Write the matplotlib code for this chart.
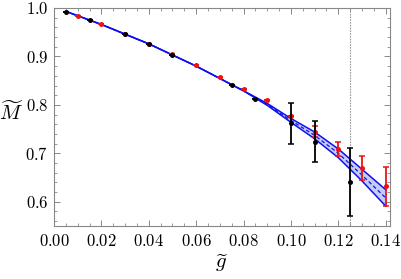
import matplotlib
matplotlib.use("Agg")
import matplotlib.pyplot as plt
import numpy as np
from matplotlib.ticker import MultipleLocator, FuncFormatter

plt.rcParams['mathtext.fontset'] = 'cm'
plt.rcParams['font.family'] = 'DejaVu Serif'

# black data
g_black = [0.005, 0.015, 0.03, 0.04, 0.05, 0.075, 0.085, 0.10, 0.11, 0.125]
m_black = [0.992, 0.975, 0.946, 0.925, 0.904, 0.842, 0.813, 0.762, 0.724, 0.641]
err_black = [0.0, 0.0, 0.0, 0.0, 0.0, 0.0, 0.0, 0.042, 0.042, 0.070]

# red data
g_red = [0.01, 0.02, 0.03, 0.04, 0.05, 0.06, 0.07, 0.08, 0.09, 0.10, 0.11, 0.12, 0.13, 0.14]
m_red = [0.984, 0.966, 0.946, 0.926, 0.905, 0.882, 0.858, 0.833, 0.810, 0.778, 0.745, 0.709, 0.670, 0.632]
err_red = [0.0, 0.0, 0.0, 0.0, 0.0, 0.0, 0.0, 0.0, 0.0, 0.0, 0.011, 0.015, 0.025, 0.040]

# fitted curve
g_fit = [0.005, 0.02, 0.04, 0.06, 0.08, 0.09, 0.10, 0.11, 0.12, 0.13, 0.14]
m_fit = [0.993, 0.966, 0.926, 0.880, 0.829, 0.801, 0.768, 0.737, 0.700, 0.655, 0.608]
w_fit = [0.0, 0.0, 0.0, 0.0, 0.0, 0.002, 0.004, 0.007, 0.009, 0.012, 0.017]

g_vline = 0.125

fig = plt.figure(figsize=(4.01, 2.79), dpi=100)
ax = fig.add_axes([54/401, 1-226/279, (390-54)/401, (226-8)/279])

gf = np.array(g_fit); mf = np.array(m_fit); wf = np.array(w_fit)
blue = '#1010ee'
ax.fill_between(gf, mf - wf, mf + wf, color='#b8c0f0', alpha=0.8, lw=0, zorder=1)
ax.plot(gf, mf + wf, color=blue, lw=1.1, zorder=2)
ax.plot(gf, mf - wf, color=blue, lw=1.1, zorder=2)
ax.plot(gf, mf, color=blue, lw=0.9, ls=(0, (3, 2)), zorder=2)

ax.axvline(g_vline, color='#999999', lw=0.8, ls=(0, (1.5, 1)), zorder=0.5)

ax.errorbar(g_red, m_red, yerr=err_red, fmt='o', color='#ee1111', ms=3.6,
            elinewidth=1.3, capsize=2.5, capthick=1.1, zorder=3, mec='none')
ax.errorbar(g_black, m_black, yerr=err_black, fmt='o', color='black', ms=3.6,
            elinewidth=1.3, capsize=2.5, capthick=1.1, zorder=4, mec='none')

ax.set_xlim(0, 0.1418)
ax.set_ylim(0.55, 1.0)
ax.xaxis.set_major_locator(MultipleLocator(0.02))
ax.xaxis.set_minor_locator(MultipleLocator(0.005))
ax.yaxis.set_major_locator(MultipleLocator(0.1))
ax.yaxis.set_minor_locator(MultipleLocator(0.02))
ax.xaxis.set_major_formatter(FuncFormatter(lambda v, p: r'$%.2f$' % v))
ax.yaxis.set_major_formatter(FuncFormatter(lambda v, p: r'$%.1f$' % v))
for s in ax.spines.values():
    s.set_color('#888888')
    s.set_linewidth(0.8)
ax.tick_params(which='both', direction='in', top=True, right=True, colors='#888888',
               labelcolor='black', labelsize=12)
ax.tick_params(which='major', length=4, width=0.7)
ax.tick_params(which='minor', length=2, width=0.6)
ax.tick_params(axis='x', pad=5)
ax.tick_params(axis='y', pad=4)

ax.set_xlabel(r'$\widetilde{g}$', fontsize=15, labelpad=2)
ax.set_ylabel(r'$\widetilde{M}$', fontsize=15, rotation=0, labelpad=0, ha='center', va='center')
ax.yaxis.set_label_coords(-0.128, 0.52)

fig.savefig('out.png', dpi=100)
